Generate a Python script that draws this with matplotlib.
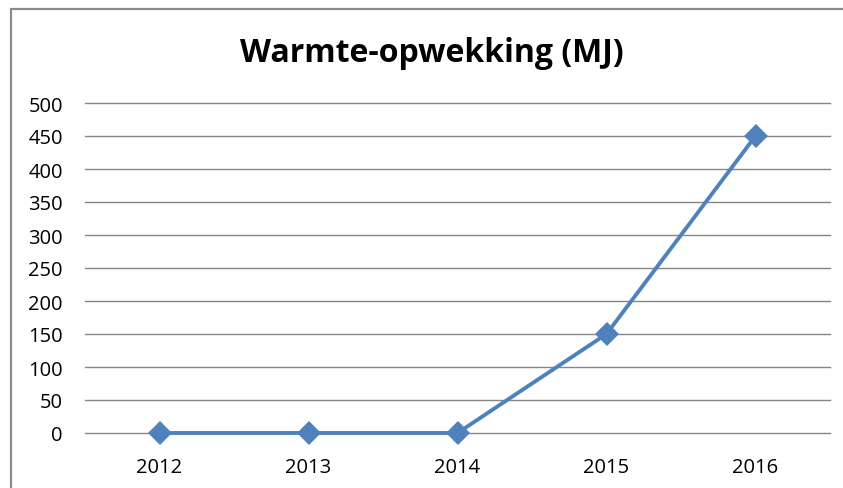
import matplotlib
matplotlib.use("Agg")
import matplotlib.pyplot as plt
from matplotlib.patches import Rectangle

years = ["2012", "2013", "2014", "2015", "2016"]
values = [0, 0, 0, 150, 450]
y_ticks = list(range(0, 501, 50))

plt.rcParams['font.family'] = ['Open Sans', 'DejaVu Sans']

fig = plt.figure(figsize=(8.43, 4.89), dpi=100)
ax = fig.add_axes([85/843, 1 - 434/489, 745/843, 330/489])

ax.plot(range(len(years)), values, color='#4F81BD', linewidth=2.8,
        marker='D', markersize=12, markeredgewidth=0, zorder=3, clip_on=False)

ax.set_xlim(-0.5, len(years) - 0.5)
ax.set_ylim(0, 500)
ax.set_yticks(y_ticks)
ax.set_xticks(range(len(years)))
ax.set_xticklabels(years)
ax.yaxis.grid(True, color='#868686', linewidth=1)
for gl in ax.get_ygridlines():
    gl.set_clip_on(False)
ax.set_axisbelow(True)
for s in ax.spines.values():
    s.set_visible(False)
ax.tick_params(length=0, labelsize=14.5, colors='#000000')
ax.tick_params(axis='y', pad=16)
ax.tick_params(axis='x', pad=17)

fig.text(432/843, 1 - 54/489, "Warmte-opwekking (MJ)", ha='center', va='center',
         fontsize=23, fontweight='bold')

# chart border, cropped at right and bottom like the reference
fig.patches.append(Rectangle((11/843, -0.1), 1.2, 1 - 10/489 + 0.1,
                             transform=fig.transFigure, fill=False,
                             edgecolor='#8c8c8c', linewidth=1.6))

fig.savefig("out.png", dpi=100)
